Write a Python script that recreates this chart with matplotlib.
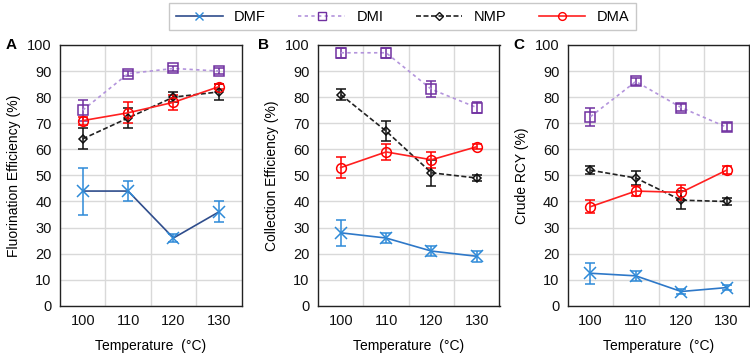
import matplotlib
matplotlib.use("Agg")
import matplotlib.pyplot as plt
from matplotlib.lines import Line2D

plt.rcParams['font.family'] = ['Liberation Sans', 'DejaVu Sans']

temps = [100, 110, 120, 130]

# panel A - fluorination efficiency
a_dmf = [44, 44, 26, 36]
a_dmf_err = [9, 4, 1.5, 4]
a_dmi = [75, 89, 91, 90]
a_dmi_err = [4, 1, 1, 1]
a_nmp = [64, 72, 80, 82]
a_nmp_err = [4, 4, 2, 3]
a_dma = [71, 74, 78, 84]
a_dma_err = [1.5, 4, 3, 1]

# panel B - collection efficiency
b_dmf = [28, 26, 21, 19]
b_dmf_err = [5, 2, 2, 2]
b_dmi = [97, 97, 83, 76]
b_dmi_err = [2, 2, 3, 2]
b_nmp = [81, 67, 51, 49]
b_nmp_err = [2, 4, 5, 1]
b_dma = [53, 59, 56, 61]
b_dma_err = [4, 3, 3, 1]

# panel C - crude RCY
c_dmf = [12.5, 11.5, 5.5, 7]
c_dmf_err = [4, 2, 1, 1]
c_dmi = [72.5, 86, 76, 68.5]
c_dmi_err = [3.5, 1.5, 1.5, 1.5]
c_nmp = [52, 49, 40.5, 40]
c_nmp_err = [1.5, 2.5, 3.5, 1.5]
c_dma = [38, 44, 43.5, 52]
c_dma_err = [2.5, 2, 3, 1.5]

styles = {
    'DMF': dict(color='#2e6db4', ecolor='#2e8ad8', mec='#2e8ad8', marker='x', ls='-', ms=8),
    'DMI': dict(color='#b394dc', ecolor='#7030a0', mec='#7030a0', marker='s', ls=(0, (2, 2)), ms=7),
    'NMP': dict(color='#222222', ecolor='#111111', mec='#111111', marker='D', ls=(0, (3, 1.5)), ms=4.5),
    'DMA': dict(color='#ff2020', ecolor='#ff0000', mec='#ff0000', marker='o', ls='-', ms=7),
}

panels = [
    ('A', 'Fluorination Efficiency (%)', [(a_dmf, a_dmf_err), (a_dmi, a_dmi_err), (a_nmp, a_nmp_err), (a_dma, a_dma_err)]),
    ('B', 'Collection Efficiency (%)', [(b_dmf, b_dmf_err), (b_dmi, b_dmi_err), (b_nmp, b_nmp_err), (b_dma, b_dma_err)]),
    ('C', 'Crude RCY (%)', [(c_dmf, c_dmf_err), (c_dmi, c_dmi_err), (c_nmp, c_nmp_err), (c_dma, c_dma_err)]),
]
names = ['DMF', 'DMI', 'NMP', 'DMA']
dmf_line = ['#2f4d8c', '#2e78c8', '#2e78c8']

fig = plt.figure(figsize=(7.5, 3.54), dpi=100)
lefts = [0.080, 0.424, 0.757]
letter_x = [-0.30, -0.33, -0.30]

for i, (left, (letter, ylabel, series)) in enumerate(zip(lefts, panels)):
    ax = fig.add_axes([left, 0.136, 0.242, 0.737])
    for name, (vals, errs) in zip(names, series):
        st = styles[name]
        col = dmf_line[i] if name == 'DMF' else st['color']
        ax.errorbar(temps, vals, yerr=errs, color=col, ecolor=st['ecolor'],
                    marker=st['marker'], ms=st['ms'], mfc='none', mec=st['mec'], mew=1.1,
                    ls=st['ls'], lw=1.2, elinewidth=1.1, capsize=3.5, capthick=1.1, zorder=3)
    ax.set_xlim(95, 135)
    ax.set_ylim(0, 100)
    ax.set_xticks(temps)
    ax.set_yticks(range(0, 101, 10))
    ax.set_xticks([105, 115, 125], minor=True)
    ax.grid(True, which='major', axis='y', color='#d9d9d9', lw=1)
    ax.grid(True, which='minor', axis='x', color='#d9d9d9', lw=1)
    ax.tick_params(which='both', length=0, labelsize=10.5, pad=6, colors='#111111')
    for sp in ax.spines.values():
        sp.set_color('#222222')
        sp.set_linewidth(1)
    ax.set_axisbelow(True)
    ax.set_xlabel('Temperature  (°C)', fontsize=10, labelpad=8)
    ax.set_ylabel(ylabel, fontsize=10, labelpad=4)
    ax.text(letter_x[i], 1.0, letter, transform=ax.transAxes, fontsize=11, fontweight='bold',
            ha='left', va='center')

handles = []
for n in names:
    st = styles[n]
    col = '#2f4d8c' if n == 'DMF' else st['color']
    handles.append(Line2D([], [], color=col, ls=st['ls'], lw=1.2, marker=st['marker'],
                          ms=st['ms'] * 0.8, mfc='none', mec=st['mec']))
leg = fig.legend(handles, names, loc='upper center', bbox_to_anchor=(0.537, 1.012), ncol=4,
                 frameon=True, fancybox=False, edgecolor='#bbbbbb', fontsize=10.5,
                 handlelength=3.2, columnspacing=2.2, borderpad=0.45)

fig.savefig('out.png', dpi=100)
